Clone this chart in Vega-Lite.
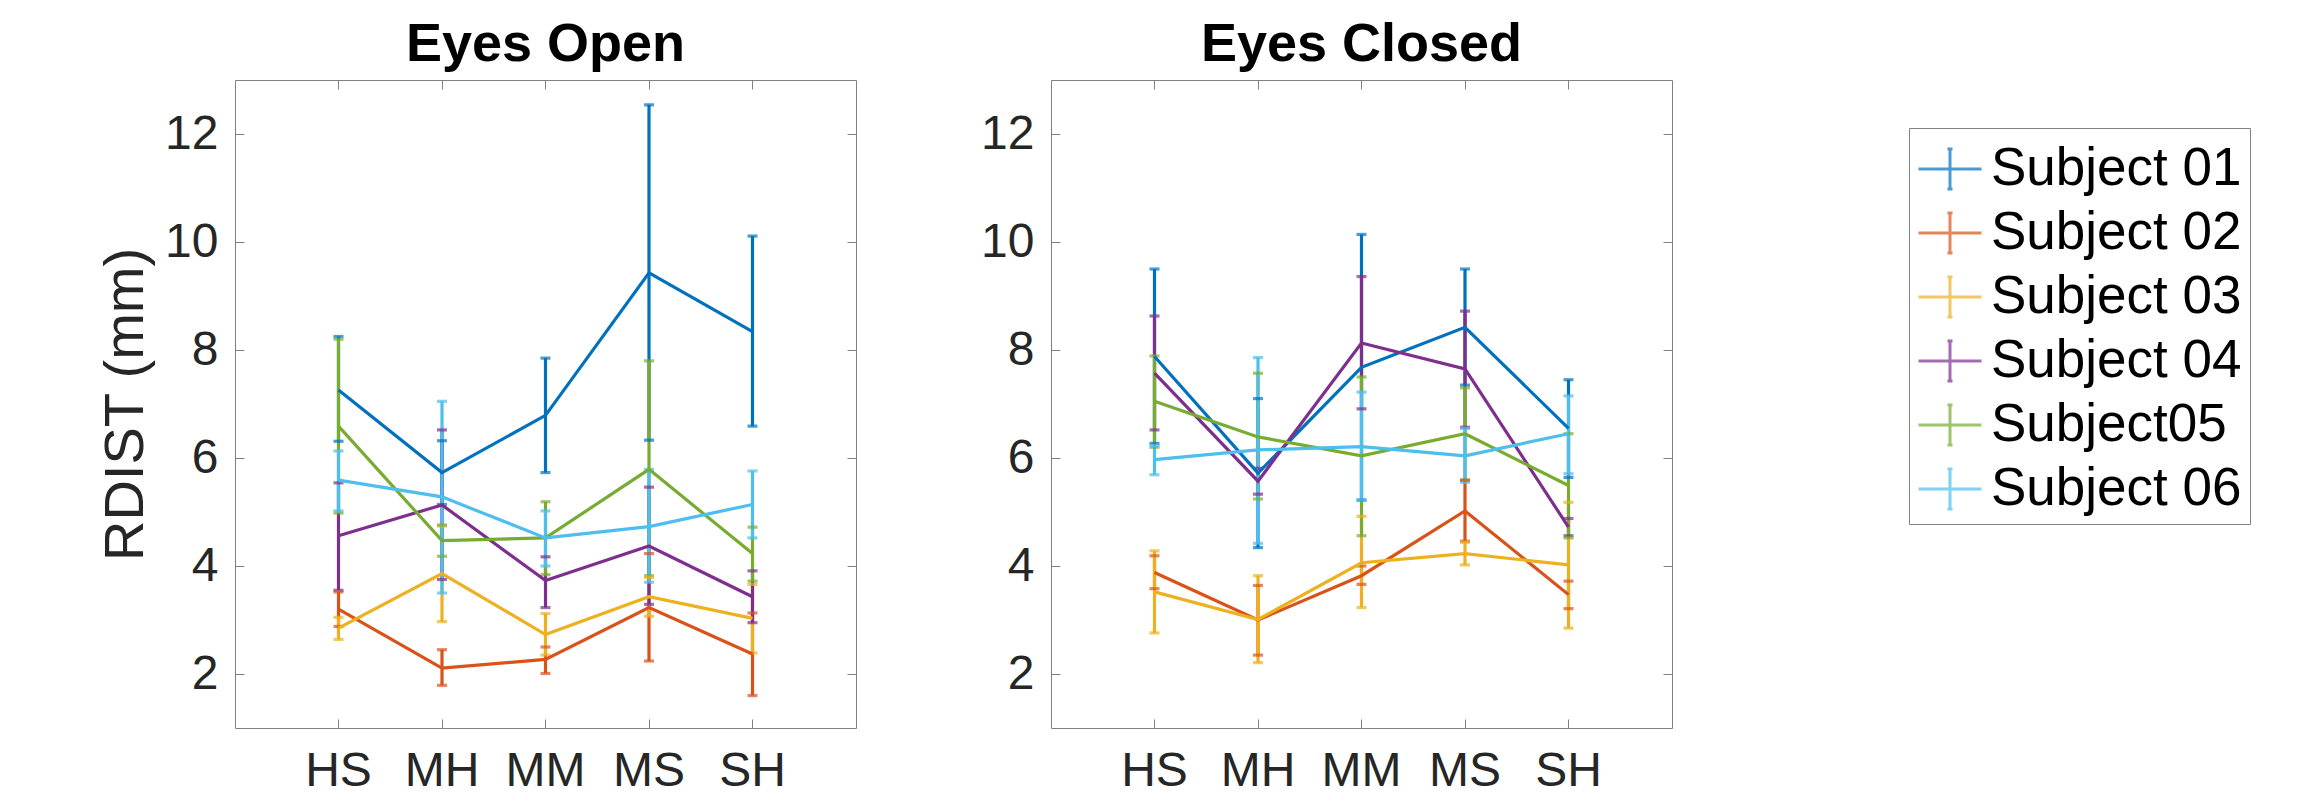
{
  "$schema": "https://vega.github.io/schema/vega-lite/v6.json",
  "background": "white",
  "padding": {"left": 97, "top": 17, "right": 5, "bottom": 5},
  "datasets": {
    "rd": [
      {"cond": "Eyes Open", "pos": "HS", "subject": "Subject 01", "mean": 7.26, "lo": 6.31, "hi": 8.25},
      {"cond": "Eyes Open", "pos": "MH", "subject": "Subject 01", "mean": 5.73, "lo": 5.14, "hi": 6.32},
      {"cond": "Eyes Open", "pos": "MM", "subject": "Subject 01", "mean": 6.79, "lo": 5.73, "hi": 7.85},
      {"cond": "Eyes Open", "pos": "MS", "subject": "Subject 01", "mean": 9.43, "lo": 6.33, "hi": 12.54},
      {"cond": "Eyes Open", "pos": "SH", "subject": "Subject 01", "mean": 8.34, "lo": 6.59, "hi": 10.11},
      {"cond": "Eyes Open", "pos": "HS", "subject": "Subject 02", "mean": 3.20, "lo": 2.88, "hi": 3.52},
      {"cond": "Eyes Open", "pos": "MH", "subject": "Subject 02", "mean": 2.11, "lo": 1.79, "hi": 2.45},
      {"cond": "Eyes Open", "pos": "MM", "subject": "Subject 02", "mean": 2.27, "lo": 2.01, "hi": 2.50},
      {"cond": "Eyes Open", "pos": "MS", "subject": "Subject 02", "mean": 3.23, "lo": 2.24, "hi": 4.23},
      {"cond": "Eyes Open", "pos": "SH", "subject": "Subject 02", "mean": 2.37, "lo": 1.60, "hi": 3.13},
      {"cond": "Eyes Open", "pos": "HS", "subject": "Subject 03", "mean": 2.85, "lo": 2.64, "hi": 3.05},
      {"cond": "Eyes Open", "pos": "MH", "subject": "Subject 03", "mean": 3.86, "lo": 2.97, "hi": 4.74},
      {"cond": "Eyes Open", "pos": "MM", "subject": "Subject 03", "mean": 2.73, "lo": 2.35, "hi": 3.12},
      {"cond": "Eyes Open", "pos": "MS", "subject": "Subject 03", "mean": 3.43, "lo": 3.07, "hi": 3.79},
      {"cond": "Eyes Open", "pos": "SH", "subject": "Subject 03", "mean": 3.03, "lo": 2.39, "hi": 3.66},
      {"cond": "Eyes Open", "pos": "HS", "subject": "Subject 04", "mean": 4.56, "lo": 3.55, "hi": 5.54},
      {"cond": "Eyes Open", "pos": "MH", "subject": "Subject 04", "mean": 5.13, "lo": 3.75, "hi": 6.52},
      {"cond": "Eyes Open", "pos": "MM", "subject": "Subject 04", "mean": 3.73, "lo": 3.23, "hi": 4.17},
      {"cond": "Eyes Open", "pos": "MS", "subject": "Subject 04", "mean": 4.37, "lo": 3.29, "hi": 5.46},
      {"cond": "Eyes Open", "pos": "SH", "subject": "Subject 04", "mean": 3.43, "lo": 2.95, "hi": 3.91},
      {"cond": "Eyes Open", "pos": "HS", "subject": "Subject05", "mean": 6.59, "lo": 4.98, "hi": 8.20},
      {"cond": "Eyes Open", "pos": "MH", "subject": "Subject05", "mean": 4.47, "lo": 4.18, "hi": 4.76},
      {"cond": "Eyes Open", "pos": "MM", "subject": "Subject05", "mean": 4.52, "lo": 3.84, "hi": 5.19},
      {"cond": "Eyes Open", "pos": "MS", "subject": "Subject05", "mean": 5.79, "lo": 3.82, "hi": 7.80},
      {"cond": "Eyes Open", "pos": "SH", "subject": "Subject05", "mean": 4.23, "lo": 3.72, "hi": 4.72},
      {"cond": "Eyes Open", "pos": "HS", "subject": "Subject 06", "mean": 5.59, "lo": 5.02, "hi": 6.13},
      {"cond": "Eyes Open", "pos": "MH", "subject": "Subject 06", "mean": 5.28, "lo": 3.50, "hi": 7.05},
      {"cond": "Eyes Open", "pos": "MM", "subject": "Subject 06", "mean": 4.52, "lo": 4.00, "hi": 5.02},
      {"cond": "Eyes Open", "pos": "MS", "subject": "Subject 06", "mean": 4.73, "lo": 3.70, "hi": 5.79},
      {"cond": "Eyes Open", "pos": "SH", "subject": "Subject 06", "mean": 5.14, "lo": 4.52, "hi": 5.76},
      {"cond": "Eyes Closed", "pos": "HS", "subject": "Subject 01", "mean": 7.88, "lo": 6.27, "hi": 9.50},
      {"cond": "Eyes Closed", "pos": "MH", "subject": "Subject 01", "mean": 5.72, "lo": 4.34, "hi": 7.10},
      {"cond": "Eyes Closed", "pos": "MM", "subject": "Subject 01", "mean": 7.68, "lo": 5.22, "hi": 10.14},
      {"cond": "Eyes Closed", "pos": "MS", "subject": "Subject 01", "mean": 8.42, "lo": 7.35, "hi": 9.50},
      {"cond": "Eyes Closed", "pos": "SH", "subject": "Subject 01", "mean": 6.55, "lo": 5.64, "hi": 7.45},
      {"cond": "Eyes Closed", "pos": "HS", "subject": "Subject 02", "mean": 3.88, "lo": 3.58, "hi": 4.19},
      {"cond": "Eyes Closed", "pos": "MH", "subject": "Subject 02", "mean": 3.00, "lo": 2.35, "hi": 3.64},
      {"cond": "Eyes Closed", "pos": "MM", "subject": "Subject 02", "mean": 3.82, "lo": 3.66, "hi": 4.00},
      {"cond": "Eyes Closed", "pos": "MS", "subject": "Subject 02", "mean": 5.02, "lo": 4.46, "hi": 5.59},
      {"cond": "Eyes Closed", "pos": "SH", "subject": "Subject 02", "mean": 3.47, "lo": 3.21, "hi": 3.72},
      {"cond": "Eyes Closed", "pos": "HS", "subject": "Subject 03", "mean": 3.52, "lo": 2.76, "hi": 4.28},
      {"cond": "Eyes Closed", "pos": "MH", "subject": "Subject 03", "mean": 3.01, "lo": 2.21, "hi": 3.82},
      {"cond": "Eyes Closed", "pos": "MM", "subject": "Subject 03", "mean": 4.06, "lo": 3.23, "hi": 4.92},
      {"cond": "Eyes Closed", "pos": "MS", "subject": "Subject 03", "mean": 4.23, "lo": 4.02, "hi": 4.44},
      {"cond": "Eyes Closed", "pos": "SH", "subject": "Subject 03", "mean": 4.02, "lo": 2.85, "hi": 5.18},
      {"cond": "Eyes Closed", "pos": "HS", "subject": "Subject 04", "mean": 7.57, "lo": 6.52, "hi": 8.63},
      {"cond": "Eyes Closed", "pos": "MH", "subject": "Subject 04", "mean": 5.57, "lo": 5.33, "hi": 5.81},
      {"cond": "Eyes Closed", "pos": "MM", "subject": "Subject 04", "mean": 8.13, "lo": 6.91, "hi": 9.36},
      {"cond": "Eyes Closed", "pos": "MS", "subject": "Subject 04", "mean": 7.65, "lo": 6.57, "hi": 8.72},
      {"cond": "Eyes Closed", "pos": "SH", "subject": "Subject 04", "mean": 4.72, "lo": 4.56, "hi": 4.88},
      {"cond": "Eyes Closed", "pos": "HS", "subject": "Subject05", "mean": 7.05, "lo": 6.20, "hi": 7.89},
      {"cond": "Eyes Closed", "pos": "MH", "subject": "Subject05", "mean": 6.39, "lo": 5.24, "hi": 7.57},
      {"cond": "Eyes Closed", "pos": "MM", "subject": "Subject05", "mean": 6.04, "lo": 4.56, "hi": 7.50},
      {"cond": "Eyes Closed", "pos": "MS", "subject": "Subject05", "mean": 6.45, "lo": 5.59, "hi": 7.30},
      {"cond": "Eyes Closed", "pos": "SH", "subject": "Subject05", "mean": 5.49, "lo": 4.52, "hi": 6.45},
      {"cond": "Eyes Closed", "pos": "HS", "subject": "Subject 06", "mean": 5.97, "lo": 5.69, "hi": 6.23},
      {"cond": "Eyes Closed", "pos": "MH", "subject": "Subject 06", "mean": 6.15, "lo": 4.42, "hi": 7.86},
      {"cond": "Eyes Closed", "pos": "MM", "subject": "Subject 06", "mean": 6.21, "lo": 5.22, "hi": 7.22},
      {"cond": "Eyes Closed", "pos": "MS", "subject": "Subject 06", "mean": 6.04, "lo": 5.55, "hi": 6.55},
      {"cond": "Eyes Closed", "pos": "SH", "subject": "Subject 06", "mean": 6.45, "lo": 5.71, "hi": 7.15}
    ]
  },
  "data": {"name": "rd"},
  "hconcat": [
    {
      "width": 621,
      "height": 648,
      "title": {"text": "Eyes Open"},
      "transform": [{"filter": "datum.cond === 'Eyes Open'"}],
      "resolve": {"axis": {"x": "independent", "y": "independent"}},
      "layer": [
        {
          "mark": {"type": "rule", "strokeWidth": 3.2},
          "encoding": {
            "x": {"field": "pos", "type": "ordinal", "axis": null, "scale": {"padding": 1}},
            "y": {"field": "lo", "type": "quantitative", "axis": null, "scale": {"domain": [1, 13], "nice": false, "zero": false}},
            "y2": {"field": "hi"},
            "color": {"field": "subject", "type": "nominal", "scale": {"domain": ["Subject 01", "Subject 02", "Subject 03", "Subject 04", "Subject05", "Subject 06"], "range": ["#0072BD", "#D95319", "#EDB120", "#7E2F8E", "#77AC30", "#4DBEEE"]}}
          }
        },
        {
          "mark": {"type": "tick", "orient": "horizontal", "size": 10, "thickness": 3.2},
          "encoding": {
            "x": {"field": "pos", "type": "ordinal", "axis": null},
            "y": {"field": "lo", "type": "quantitative", "axis": null},
            "color": {"field": "subject", "type": "nominal"}
          }
        },
        {
          "mark": {"type": "tick", "orient": "horizontal", "size": 10, "thickness": 3.2},
          "encoding": {
            "x": {"field": "pos", "type": "ordinal", "axis": null},
            "y": {"field": "hi", "type": "quantitative", "axis": null},
            "color": {"field": "subject", "type": "nominal"}
          }
        },
        {
          "mark": {"type": "line", "strokeWidth": 3.2},
          "encoding": {
            "x": {"field": "pos", "type": "ordinal", "axis": {"orient": "bottom", "title": null}},
            "y": {"field": "mean", "type": "quantitative", "axis": {"orient": "left", "title": "RDIST (mm)", "values": [2, 4, 6, 8, 10, 12], "format": "d"}},
            "color": {"field": "subject", "type": "nominal"}
          }
        },
        {
          "mark": {"type": "line", "opacity": 0},
          "encoding": {
            "x": {"field": "pos", "type": "ordinal", "axis": {"orient": "top", "title": null, "labels": false}},
            "y": {"field": "mean", "type": "quantitative", "axis": {"orient": "right", "title": null, "labels": false, "values": [2, 4, 6, 8, 10, 12]}},
            "detail": {"field": "subject"}
          }
        }
      ]
    },
    {
      "width": 621,
      "height": 648,
      "title": {"text": "Eyes Closed"},
      "transform": [{"filter": "datum.cond === 'Eyes Closed'"}],
      "resolve": {"axis": {"x": "independent", "y": "independent"}},
      "layer": [
        {
          "mark": {"type": "rule", "strokeWidth": 3.2},
          "encoding": {
            "x": {"field": "pos", "type": "ordinal", "axis": null, "scale": {"padding": 1}},
            "y": {"field": "lo", "type": "quantitative", "axis": null, "scale": {"domain": [1, 13], "nice": false, "zero": false}},
            "y2": {"field": "hi"},
            "color": {"field": "subject", "type": "nominal"}
          }
        },
        {
          "mark": {"type": "tick", "orient": "horizontal", "size": 10, "thickness": 3.2},
          "encoding": {
            "x": {"field": "pos", "type": "ordinal", "axis": null},
            "y": {"field": "lo", "type": "quantitative", "axis": null},
            "color": {"field": "subject", "type": "nominal"}
          }
        },
        {
          "mark": {"type": "tick", "orient": "horizontal", "size": 10, "thickness": 3.2},
          "encoding": {
            "x": {"field": "pos", "type": "ordinal", "axis": null},
            "y": {"field": "hi", "type": "quantitative", "axis": null},
            "color": {"field": "subject", "type": "nominal"}
          }
        },
        {
          "mark": {"type": "line", "strokeWidth": 3.2},
          "encoding": {
            "x": {"field": "pos", "type": "ordinal", "axis": {"orient": "bottom", "title": null}},
            "y": {"field": "mean", "type": "quantitative", "axis": {"orient": "left", "title": null, "values": [2, 4, 6, 8, 10, 12], "format": "d"}},
            "color": {"field": "subject", "type": "nominal"}
          }
        },
        {
          "mark": {"type": "line", "opacity": 0},
          "encoding": {
            "x": {"field": "pos", "type": "ordinal", "axis": {"orient": "top", "title": null, "labels": false}},
            "y": {"field": "mean", "type": "quantitative", "axis": {"orient": "right", "title": null, "labels": false, "values": [2, 4, 6, 8, 10, 12]}},
            "detail": {"field": "subject"}
          }
        }
      ]
    }
  ],
  "spacing": 195,
  "bounds": "flush",
  "resolve": {"scale": {"color": "shared"}},
  "config": {
    "font": "Liberation Sans",
    "view": {"stroke": "#808080", "strokeWidth": 1},
    "title": {"fontSize": 54, "fontWeight": "bold", "color": "#000000", "font": "Liberation Sans", "offset": 8, "anchor": "middle"},
    "axis": {
      "domain": false,
      "grid": false,
      "labelFont": "Liberation Sans",
      "labelFontSize": 48,
      "labelColor": "#262626",
      "tickColor": "#808080",
      "tickWidth": 1,
      "tickSize": -9,
      "titleFont": "Liberation Sans",
      "titleFontSize": 56,
      "titleFontWeight": "normal",
      "titleColor": "#262626"
    },
    "axisX": {"labelPadding": 28, "labelAngle": 0},
    "axisY": {"labelPadding": 26, "titlePadding": 10},
    "legend": {
      "orient": "none",
      "legendX": 1674,
      "legendY": 48,
      "title": null,
      "strokeColor": "#808080",
      "padding": 8,
      "labelFont": "Liberation Sans",
      "labelFontSize": 53,
      "labelLimit": 500,
      "labelColor": "#000000",
      "labelOffset": 8,
      "rowPadding": 4,
      "symbolType": "M-1,0L1,0M0,-0.635L0,0.635M-0.08,-0.635L0.08,-0.635M-0.08,0.635L0.08,0.635",
      "symbolSize": 3969,
      "symbolStrokeWidth": 3,
      "symbolFillColor": "transparent"
    }
  }
}
